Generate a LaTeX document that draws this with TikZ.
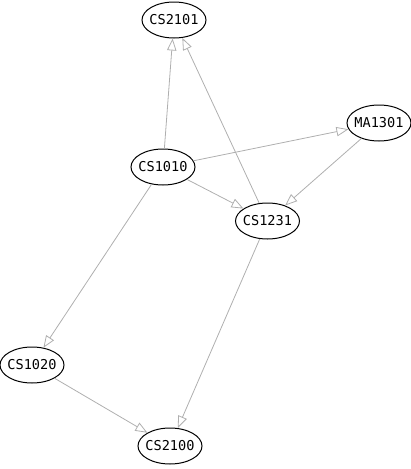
\documentclass[tikz,border=0pt]{standalone}
\usepackage{fontspec}
\setmonofont{DejaVu Sans Mono}
\usetikzlibrary{shapes.geometric,arrows.meta}
\definecolor{edgegray}{RGB}{175,175,175}
\tikzset{
  course/.style={ellipse, draw=black, line width=0.75pt, minimum width=64*0.75pt,
    minimum height=36*0.75pt, inner xsep=-6pt, inner ysep=0pt,
    font=\ttfamily\fontsize{10.2pt}{12pt}\selectfont},
  prereq/.style={draw=edgegray, line width=0.6pt,
    -{Triangle[open, length=9pt, width=7pt]}}
}
\begin{document}
\begin{tikzpicture}[x=0.75pt, y=-0.75pt]
  \useasboundingbox (0,0) rectangle (411,469);
  \node[course] (cs2101) at (174,20) {CS2101};
  \node[course] (cs1010) at (163,167) {CS1010};
  \node[course] (ma1301) at (379,123) {MA1301};
  \node[course] (cs1231) at (267.5,221) {CS1231};
  \node[course] (cs1020) at (32,365) {CS1020};
  \node[course] (cs2100) at (170,446) {CS2100};

  \draw[prereq] (cs1010) -- (cs2101);
  \draw[prereq] (cs1231) -- (cs2101);
  \draw[prereq] (cs1010) -- (ma1301);
  \draw[prereq] (ma1301) -- (cs1231);
  \draw[prereq] (cs1010) -- (cs1231);
  \draw[prereq] (cs1010) -- (cs1020);
  \draw[prereq] (cs1020) -- (cs2100);
  \draw[prereq] (cs1231) -- (cs2100);
\end{tikzpicture}
\end{document}
